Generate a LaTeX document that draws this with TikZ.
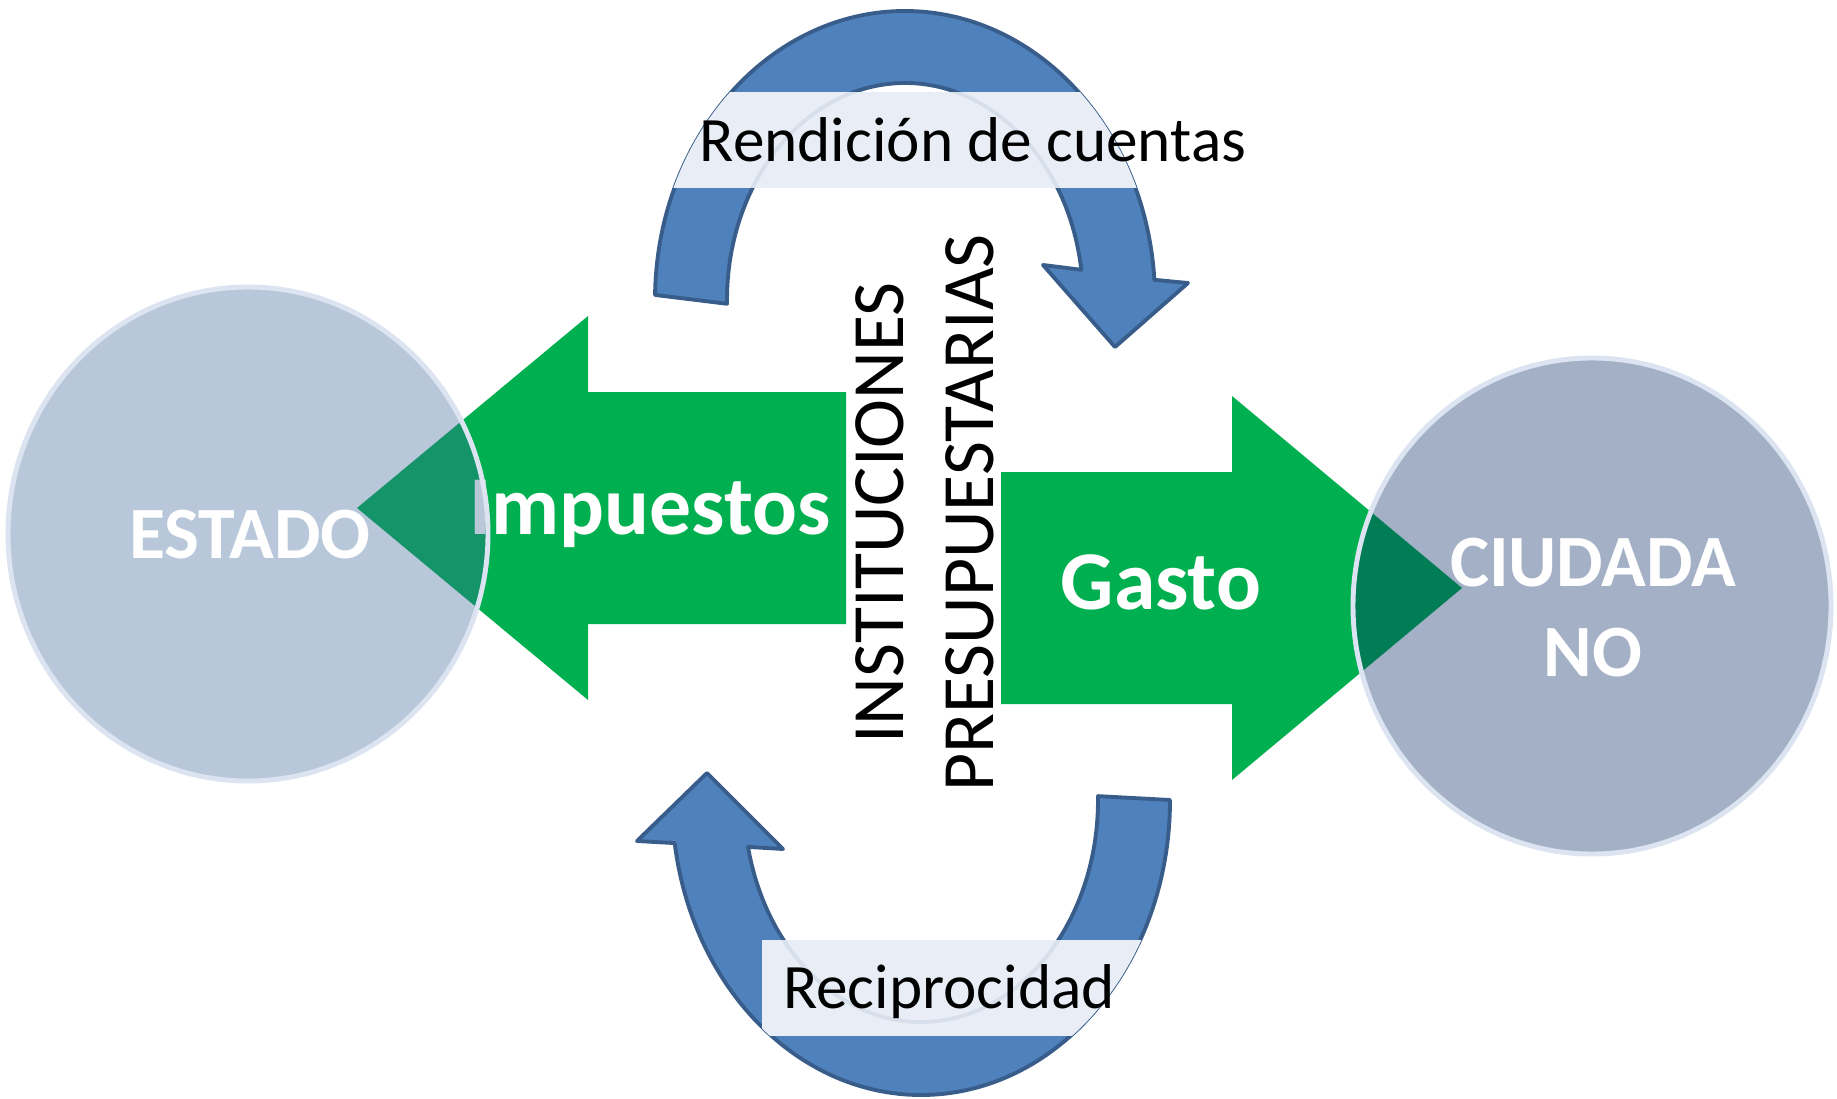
\documentclass[tikz,border=0pt]{standalone}
\usepackage{fontspec}
\setmainfont{Carlito}
\usetikzlibrary{calc}
\definecolor{LoopClr}{RGB}{79,129,189}
\definecolor{LoopLine}{RGB}{56,93,138}
\definecolor{BandClr}{RGB}{233,238,246}
\definecolor{FlowClr}{RGB}{0,176,80}
\definecolor{StateClr}{RGB}{61,101,152}
\definecolor{CitizenClr}{RGB}{0,37,95}
\definecolor{RimClr}{RGB}{219,228,240}

\begin{document}
\begin{tikzpicture}[x=0.1mm,y=-0.1mm,
  loop/.style={fill=LoopClr,draw=LoopLine,line width=1.1pt,line join=round},
  band/.style={fill=BandClr},
  flow/.style={fill=FlowClr},
  ball/.style={draw=RimClr,line width=1.4pt,fill opacity=0.36},
  balltext/.style={font=\bfseries\fontsize{21}{25.6}\selectfont,text=white,align=center,inner sep=0pt},
  flowtext/.style={font=\bfseries\fontsize{23.8}{29}\selectfont,text=white,inner sep=0pt},
  looptext/.style={font=\fontsize{18}{22}\selectfont,inner sep=0pt}]
\useasboundingbox (0,0) rectangle (1837,1099);

\coordinate (E) at (248,534);
\coordinate (C) at (1592,606);
\coordinate (T) at (905,300);
\coordinate (B) at (921,800);

% top loop
\path[loop] ($(T)+(181:250 and 289)$)
  arc[start angle=181,end angle=356,x radius=250,y radius=289]
  -- (1188,283) -- (1115,347) -- (1043,265) -- ($(T)+(352:178 and 217)$)
  arc[start angle=352,end angle=179,x radius=178,y radius=217] -- cycle;
\begin{scope}
\clip (T) ellipse[x radius=251,y radius=290];
\fill[band] (600,92) rectangle (1260,188);
\clip (600,92) rectangle (1260,188);
\draw[LoopLine,opacity=.1,line width=1.1pt] (T) ellipse[x radius=178,y radius=217];
\end{scope}
\node[looptext] (rendicion) at (973,162) [anchor=base] {Rendición de cuentas};

% bottom loop
\path[loop] ($(B)+(-1:177 and 222)$) -- ($(B)+(0:249 and 295)$)
  arc[start angle=0,end angle=171.6,x radius=249,y radius=295]
  -- (637,841) -- (707,773) -- (783,849) -- ($(B)+(167.8:177 and 222)$)
  arc[start angle=167.8,end angle=-1,x radius=177,y radius=222] -- cycle;
\begin{scope}
\clip (B) ellipse[x radius=250,y radius=296];
\fill[band] (762,940) rectangle (1300,1036);
\clip (762,940) rectangle (1300,1036);
\draw[LoopLine,opacity=.1,line width=1.1pt] (B) ellipse[x radius=177,y radius=222];
\end{scope}
\node[looptext] (reciprocidad) at (949,1008) [anchor=base] {Reciprocidad};

% green flows
\fill[flow] (357,508) -- (588,316) -- (588,392) -- (846,392) -- (846,624)
  -- (588,624) -- (588,700) -- cycle;
\fill[flow] (1462,588) -- (1232,396) -- (1232,472) -- (1001,472) -- (1001,704)
  -- (1232,704) -- (1232,780) -- cycle;
\node[flowtext] (impuestos) at (650,534) [anchor=base] {Impuestos};
\node[flowtext] (gasto) at (1161,609) [anchor=base] {Gasto};

% actors
\filldraw[ball,fill=StateClr] (E) ellipse[x radius=240,y radius=247];
\filldraw[ball,fill=CitizenClr] (C) ellipse[x radius=239,y radius=248];
\node[balltext] (estado) at (250,558) [anchor=base] {ESTADO};
\node[balltext] (ciudadano) at (1593,608) {CIUDADA\\NO};

\node[font=\fontsize{21}{25.6}\selectfont,align=center,inner sep=0pt,rotate=90]
  (instituciones) at (925,513) {INSTITUCIONES\\PRESUPUESTARIAS};
\end{tikzpicture}
\end{document}
